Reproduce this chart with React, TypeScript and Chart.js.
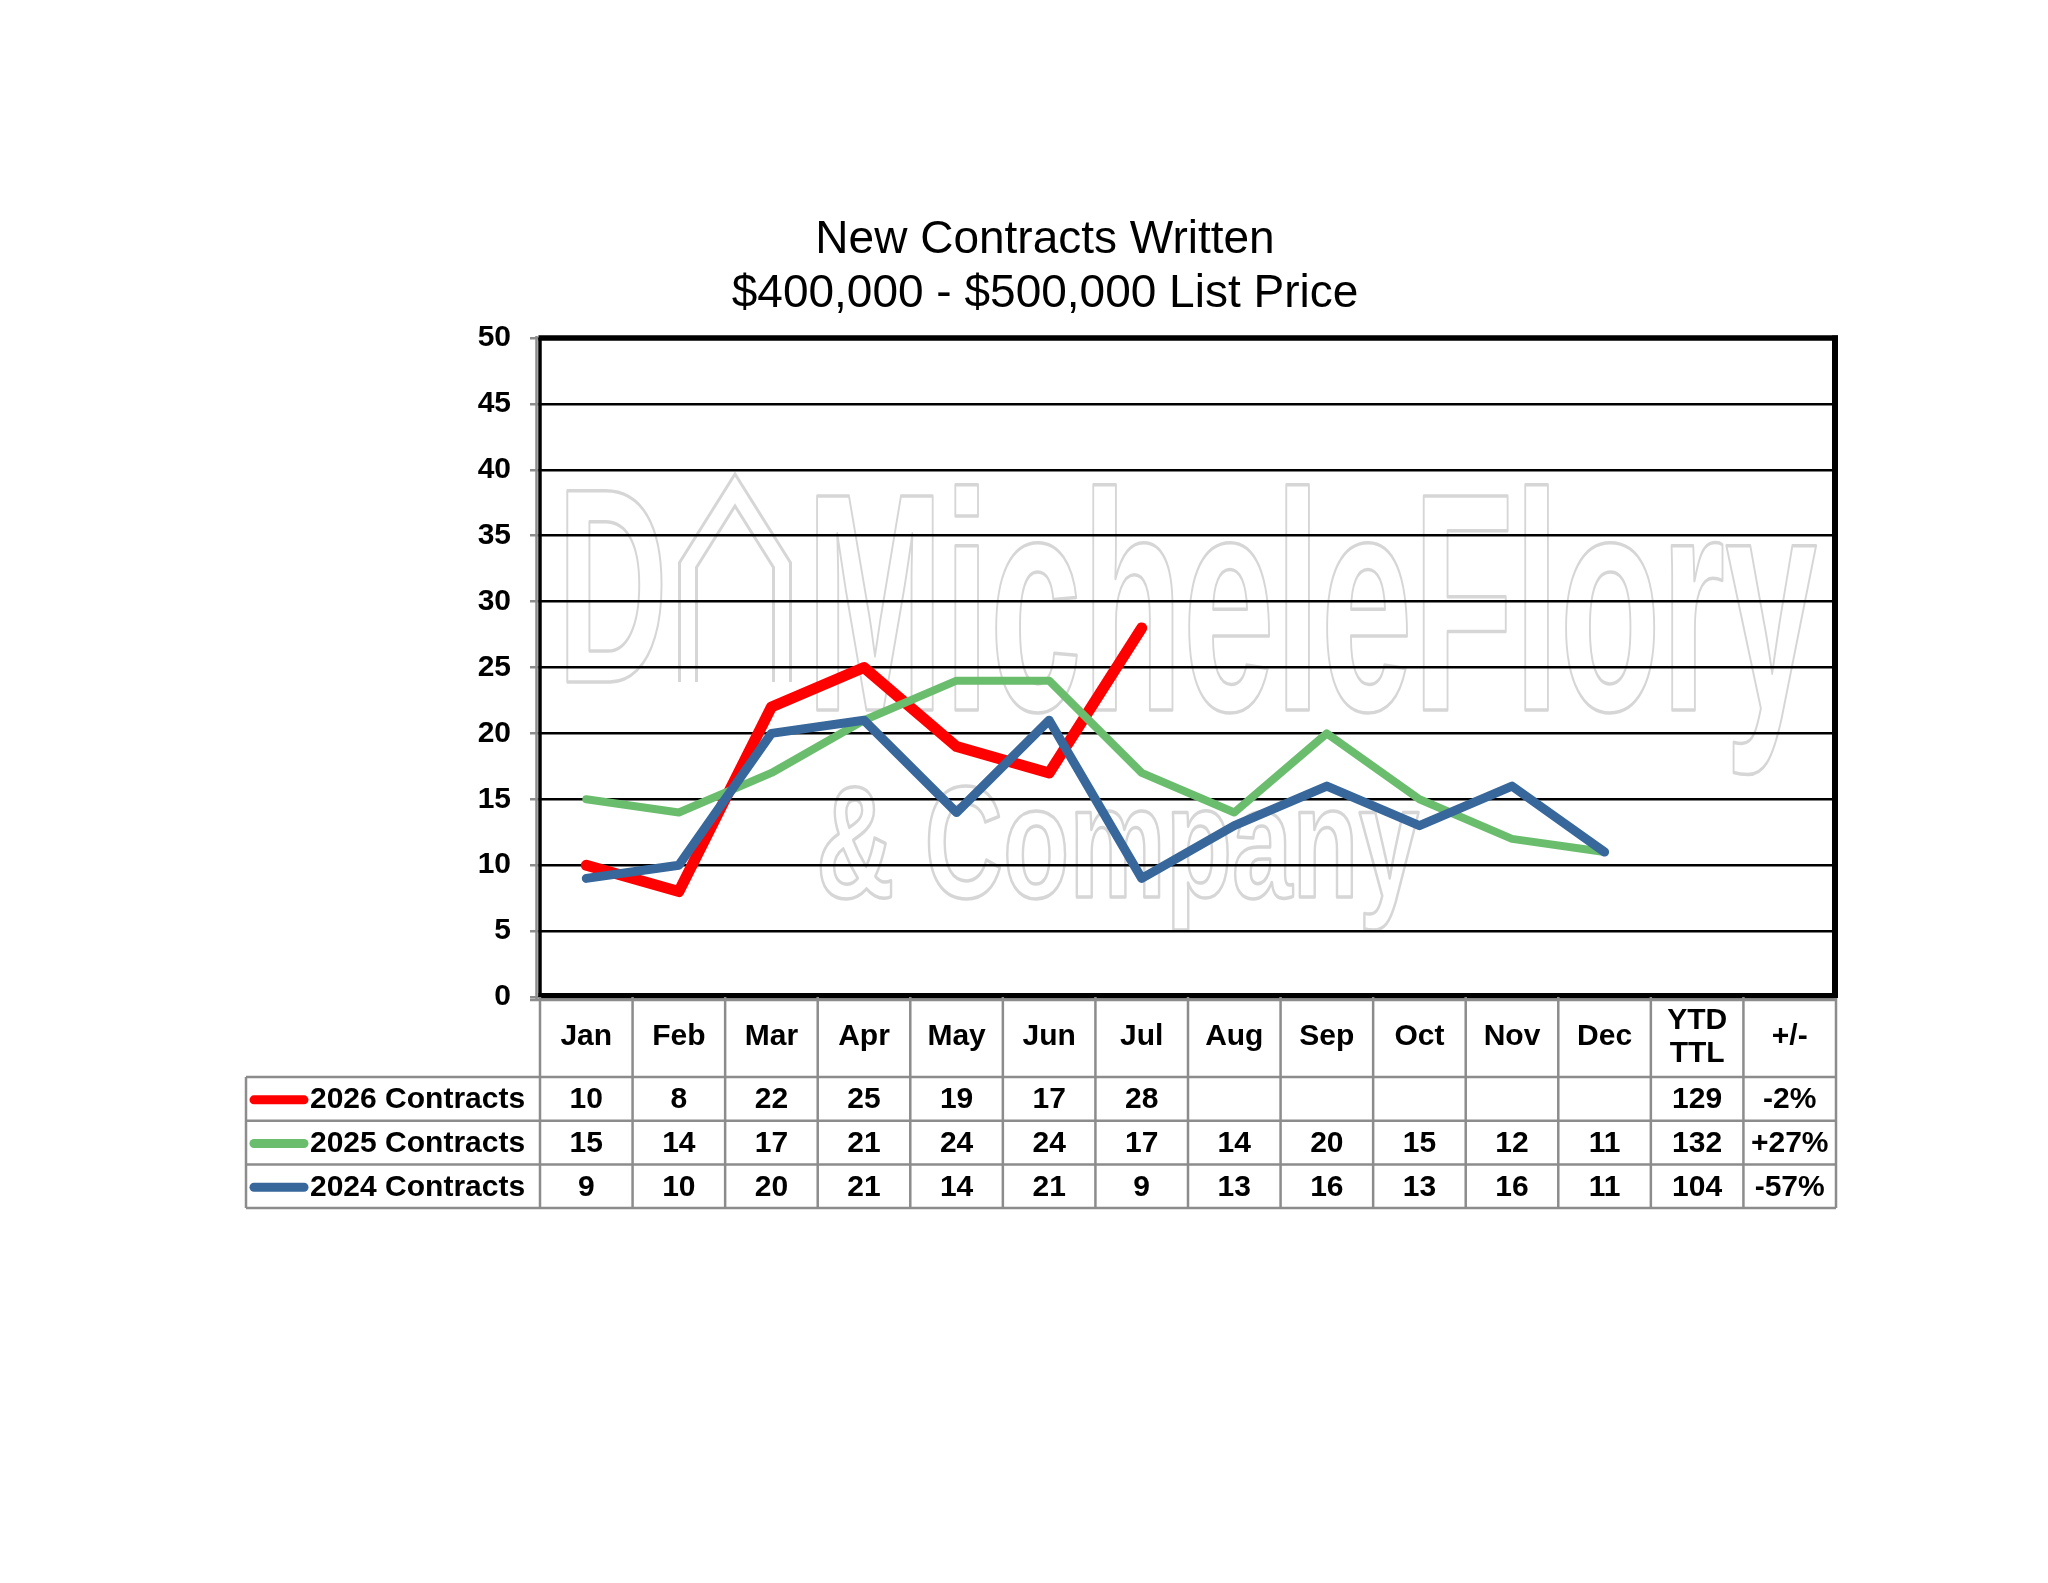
import React, { useEffect, useRef } from "react";
import { Chart, registerables } from "chart.js";

Chart.register(...registerables);

// ---------- data ----------
const titleLines = ["New Contracts Written", "$400,000 - $500,000 List Price"];
const months = ["Jan", "Feb", "Mar", "Apr", "May", "Jun", "Jul", "Aug", "Sep", "Oct", "Nov", "Dec"];
const extraHeaders = [["YTD", "TTL"], ["+/-"]];
const seriesLabels = ["2026 Contracts", "2025 Contracts", "2024 Contracts"];
const contracts2026 = [10, 8, 22, 25, 19, 17, 28, null, null, null, null, null];
const contracts2025 = [15, 14, 17, 21, 24, 24, 17, 14, 20, 15, 12, 11];
const contracts2024 = [9, 10, 20, 21, 14, 21, 9, 13, 16, 13, 16, 11];
const ytdTotals = ["129", "132", "104"];
const changes = ["-2%", "+27%", "-57%"];
const seriesColors = ["#ff0000", "#6bbd6e", "#37679b"];
const seriesWidths = [11, 8, 9];
const yMin = 0;
const yMax = 50;
const yStep = 5;
const watermarkWords = ["MicheleFlory", "& Company", "D"];

const FONT = '"Liberation Sans", Arial, Helvetica, sans-serif';
const GRAY = "#8c8c8c";
const WM = "#d6d6d6";

function strokeStretched(ctx: CanvasRenderingContext2D, text: string, left: number, right: number, baseline: number, size: number) {
  ctx.save();
  ctx.font = `bold ${size}px ${FONT}`;
  const w = ctx.measureText(text).width;
  const sx = (right - left) / w;
  ctx.translate(left, baseline);
  ctx.scale(sx, 1);
  ctx.lineWidth = 3.5;
  ctx.strokeStyle = WM;
  ctx.lineJoin = "round";
  ctx.textAlign = "left";
  ctx.textBaseline = "alphabetic";
  ctx.strokeText(text, 0, 0);
  ctx.restore();
}

function strokeHouse(ctx: CanvasRenderingContext2D) {
  ctx.save();
  ctx.lineJoin = "miter";
  const path = () => {
    ctx.beginPath();
    ctx.moveTo(688, 682);
    ctx.lineTo(688, 565);
    ctx.lineTo(735, 490);
    ctx.lineTo(782, 565);
    ctx.lineTo(782, 682);
  };
  path();
  ctx.strokeStyle = WM;
  ctx.lineWidth = 20;
  ctx.stroke();
  path();
  ctx.strokeStyle = "#ffffff";
  ctx.lineWidth = 14;
  ctx.stroke();
  ctx.restore();
}

const decorPlugin = {
  id: "decor",
  beforeDraw(chart: any) {
    const { ctx } = chart;
    ctx.save();
    ctx.fillStyle = "#ffffff";
    ctx.fillRect(0, 0, chart.width, chart.height);
    strokeHouse(ctx);
    strokeStretched(ctx, watermarkWords[0], 806, 1817, 710, 311);
    strokeStretched(ctx, watermarkWords[1], 816, 1419, 897, 160);
    strokeStretched(ctx, watermarkWords[2], 557, 668, 682, 278);
    ctx.restore();
  },
  afterDraw(chart: any) {
    const { ctx, chartArea } = chart;
    const xs = chart.scales.x;
    const L = chartArea.left;
    const R = chartArea.right;
    const T = chartArea.top;
    const B = chartArea.bottom;
    const nCols = months.length + extraHeaders.length;
    const colW = (R - L) / nCols;
    const headerBottom = B + 80;
    const rowH = 43.7;
    const tableBottom = headerBottom + rowH * seriesLabels.length;
    const legendLeft = 246;

    ctx.save();
    // table grid
    ctx.strokeStyle = GRAY;
    ctx.lineWidth = 2.5;
    ctx.beginPath();
    for (let i = 0; i <= nCols; i++) {
      const x = L + i * colW;
      ctx.moveTo(x, B);
      ctx.lineTo(x, tableBottom);
    }
    ctx.moveTo(legendLeft, headerBottom);
    ctx.lineTo(legendLeft, tableBottom);
    for (let r = 0; r <= seriesLabels.length; r++) {
      const y = headerBottom + r * rowH;
      ctx.moveTo(legendLeft, y);
      ctx.lineTo(R, y);
    }
    ctx.stroke();

    // axis lines (gray) + frame (black)
    ctx.beginPath();
    ctx.lineWidth = 2.5;
    ctx.strokeStyle = GRAY;
    ctx.moveTo(L - 3.5, T - 2);
    ctx.lineTo(L - 3.5, B + 4);
    ctx.moveTo(L - 10, B + 3);
    ctx.lineTo(R, B + 3);
    ctx.stroke();

    ctx.strokeStyle = "#000";
    ctx.lineCap = "butt";
    ctx.beginPath();
    ctx.lineWidth = 3.5;
    ctx.moveTo(L, T);
    ctx.lineTo(L, B);
    ctx.stroke();
    ctx.beginPath();
    ctx.lineWidth = 4;
    ctx.moveTo(L - 1.5, B - 2);
    ctx.lineTo(R, B - 2);
    ctx.stroke();
    ctx.beginPath();
    ctx.lineWidth = 5.5;
    ctx.moveTo(L - 1.5, T);
    ctx.lineTo(R + 2, T);
    ctx.stroke();
    ctx.beginPath();
    ctx.lineWidth = 6;
    ctx.moveTo(R - 1, T - 2.5);
    ctx.lineTo(R - 1, B + 1);
    ctx.stroke();

    // header text
    ctx.fillStyle = "#000";
    ctx.font = `bold 30px ${FONT}`;
    ctx.textAlign = "center";
    ctx.textBaseline = "middle";
    const headerMid = (B + headerBottom) / 2;
    months.forEach((m, i) => {
      ctx.fillText(m, xs.getPixelForValue(i), headerMid);
    });
    extraHeaders.forEach((lines, j) => {
      const x = xs.getPixelForValue(months.length + j);
      if (lines.length === 1) {
        ctx.fillText(lines[0], x, headerMid);
      } else {
        ctx.fillText(lines[0], x, headerMid - 16.5);
        ctx.fillText(lines[1], x, headerMid + 16.5);
      }
    });

    // rows
    const rows = [contracts2026, contracts2025, contracts2024];
    rows.forEach((vals, r) => {
      const yc = headerBottom + rowH * r + rowH / 2 + 1;
      // legend key
      ctx.save();
      ctx.strokeStyle = seriesColors[r];
      ctx.lineWidth = 9;
      ctx.lineCap = "round";
      ctx.beginPath();
      ctx.moveTo(254, yc);
      ctx.lineTo(304, yc);
      ctx.stroke();
      ctx.restore();
      ctx.textAlign = "left";
      ctx.fillText(seriesLabels[r], 310, yc);
      ctx.textAlign = "center";
      vals.forEach((v, i) => {
        if (v !== null && v !== undefined) ctx.fillText(String(v), xs.getPixelForValue(i), yc);
      });
      ctx.fillText(ytdTotals[r], xs.getPixelForValue(months.length), yc);
      ctx.fillText(changes[r], xs.getPixelForValue(months.length + 1), yc);
    });

    // title
    ctx.font = `46px ${FONT}`;
    ctx.textAlign = "center";
    ctx.textBaseline = "alphabetic";
    const tx = (legendLeft + R) / 2 + 4;
    ctx.fillText(titleLines[0], tx, 253);
    ctx.fillText(titleLines[1], tx, 307);
    ctx.restore();
  },
};

export default function App() {
  const canvasRef = useRef<HTMLCanvasElement | null>(null);

  useEffect(() => {
    const canvas = canvasRef.current;
    if (!canvas) return;
    const pad = (arr: (number | null)[]) => [...arr, ...extraHeaders.map(() => null)];
    const labels = [...months, ...extraHeaders.map((h) => h.join(" "))];
    const seriesData = [contracts2026, contracts2025, contracts2024];
    const chart = new Chart(canvas, {
      type: "line",
      data: {
        labels,
        datasets: seriesData.map((d, i) => ({
          label: seriesLabels[i],
          data: pad(d),
          borderColor: seriesColors[i],
          backgroundColor: seriesColors[i],
          borderWidth: seriesWidths[i],
          borderCapStyle: "round",
          borderJoinStyle: "round",
          pointRadius: 0,
          pointHoverRadius: 0,
          tension: 0,
          fill: false,
          spanGaps: false,
          order: seriesData.length - i,
        })),
      },
      options: {
        responsive: false,
        animation: false,
        devicePixelRatio: 1,
        events: [],
        layout: { padding: { top: 338, right: 212, bottom: 586, left: 0 } },
        plugins: {
          legend: { display: false },
          title: { display: false },
          tooltip: { enabled: false },
        },
        scales: {
          x: {
            type: "category",
            offset: true,
            display: false,
          },
          y: {
            min: yMin,
            max: yMax,
            afterFit: (scale: any) => {
              scale.width = 540;
            },
            ticks: {
              stepSize: yStep,
              color: "#000",
              padding: 19,
              font: { family: '"Liberation Sans", Arial, sans-serif', size: 30, weight: "bold" },
            },
            grid: {
              color: "#000",
              lineWidth: 2.5,
              tickLength: 10,
              tickColor: GRAY,
              tickWidth: 2.5,
            },
            border: { display: false },
          },
        },
      },
      plugins: [decorPlugin],
    } as any);
    return () => chart.destroy();
  }, []);

  return (
    <div style={{ position: "absolute", left: 0, top: 0, width: 2048, height: 1583, background: "#fff" }}>
      <canvas ref={canvasRef} width={2048} height={1583} style={{ display: "block", width: 2048, height: 1583 }} />
    </div>
  );
}
